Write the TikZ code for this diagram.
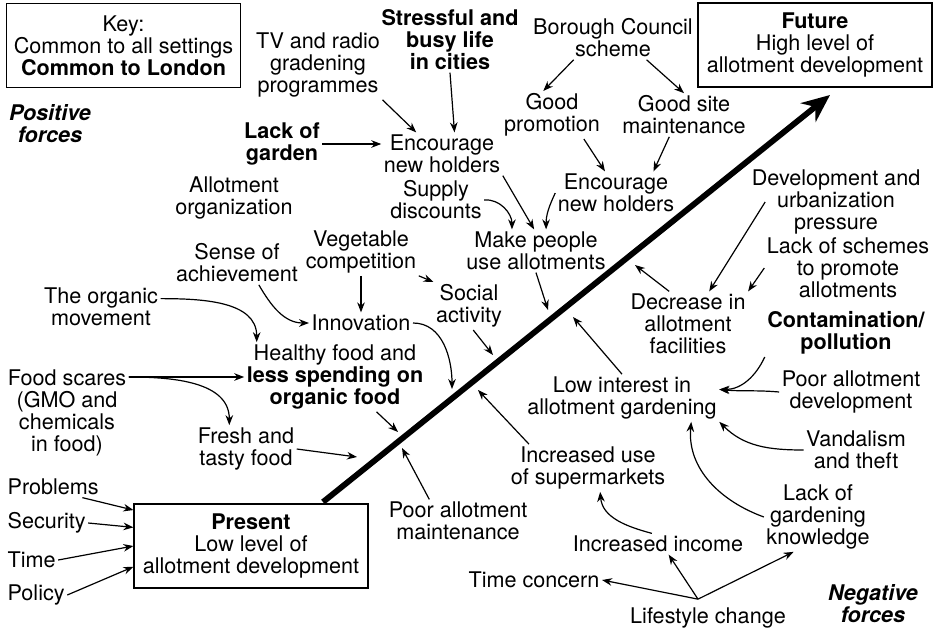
\documentclass[tikz,border=0pt]{standalone}
\usepackage{fontspec}
\setmainfont{TeX Gyre Heros}
\usetikzlibrary{arrows.meta,calc}

\begin{document}
\begin{tikzpicture}[%
    x=0.5pt,
    y=-0.5pt,
    ->,
    >={Stealth[length=5pt,width=3.8pt]},
    line width=0.6pt,
    font=\fontsize{10.8}{11}\selectfont,
    lbl/.style={%
      align=center,
      inner sep=1pt
    },
    bold/.style={%
      lbl,
      font=\fontsize{10.8}{11}\selectfont\bfseries
    },
    forces/.style={%
      lbl,
      font=\fontsize{10.8}{11}\selectfont\bfseries\itshape
    },
    stage/.style={%
      rectangle,
      minimum width=117pt,
      minimum height=42pt,
      align=center,
      draw
    },
    trend/.style={%
      line width=2.9pt,
      -{Stealth[length=14pt,width=12pt]}
    }
  ]
    \useasboundingbox (0,0) rectangle (941,631);

    \node[stage] (key) at (123.5,45.5) {Key:\\Common to all settings\\\textbf{Common to London}};
    \node[forces] (pos) at (50,124) {Positive\\forces};
    \node[lbl] (tv) at (318,65) {TV and radio\\gradening\\programmes};
    \node[bold] (stress) at (450,40) {Stressful and\\busy life\\in cities};
    \node[lbl] (council) at (613,38) {Borough Council\\scheme};
    \node[stage] (future) at (815,45) {\textbf{Future}\\High level of\\allotment development};
    \node[bold] (garden) at (282,144) {Lack of\\garden};
    \node[lbl] (enc1) at (442,154) {Encourage\\new holders};
    \node[lbl] (promo) at (552,115) {Good\\promotion};
    \node[lbl] (site) at (684,115) {Good site\\maintenance};
    \node[lbl] (enc2) at (616,193) {Encourage\\new holders};
    \node[lbl] (supply) at (436,200) {Supply\\discounts};
    \node[lbl] (org) at (234,198) {Allotment\\organization};
    \node[lbl] (make) at (536,251) {Make people\\use allotments};
    \node[lbl] (sense) at (237,263) {Sense of\\achievement};
    \node[lbl] (veg) at (361,252) {Vegetable\\competition};
    \node[lbl] (organic) at (101,307) {The organic\\movement};
    \node[lbl] (innov) at (361,323) {Innovation};
    \node[lbl] (social) at (469,306) {Social\\activity};
    \node[lbl] (healthy) at (335,377) {Healthy food and\\\textbf{less spending on}\\\textbf{organic food}};
    \node[lbl] (scares) at (67,413) {Food scares\\(GMO and\\chemicals\\in food)};
    \node[lbl] (fresh) at (246,449) {Fresh and\\tasty food};
    \node[lbl] (poorm) at (458,521) {Poor allotment\\maintenance};
    \node[stage] (present) at (251,546) {\textbf{Present}\\Low level of\\allotment development};
    \node[lbl,anchor=west] (problems) at (5,487) {Problems};
    \node[lbl,anchor=west] (security) at (5,523) {Security};
    \node[lbl,anchor=west] (time) at (5,560) {Time};
    \node[lbl,anchor=west] (policy) at (5,595) {Policy};

    \node[lbl] (devp) at (836,202) {Development and\\urbanization\\pressure};
    \node[lbl] (schemes) at (848,268) {Lack of schemes\\to promote\\allotments};
    \node[lbl] (decr) at (688,324) {Decrease in\\allotment\\facilities};
    \node[bold] (contam) at (846,333) {Contamination/\\pollution};
    \node[lbl] (low) at (622,398) {Low interest in\\allotment gardening};
    \node[lbl] (poord) at (851,392) {Poor allotment\\development};
    \node[lbl] (vand) at (856,450) {Vandalism\\and theft};
    \node[lbl] (supm) at (588,468) {Increased use\\of supermarkets};
    \node[lbl] (knowl) at (818,517) {Lack of\\gardening\\knowledge};
    \node[lbl] (income) at (658,544) {Increased income};
    \node[lbl] (timec) at (534,580) {Time concern};
    \node[lbl] (life) at (708,618) {Lifestyle change};
    \node[forces] (neg) at (873,604) {Negative\\forces};

    \coordinate (base) at (323,502);
    \coordinate (goal) at (830,95);
    \draw[trend] (base) -- (goal);

    \coordinate (t1) at (548,310);
    \coordinate (t2) at (493,355);
    \coordinate (t3) at (452,389);
    \coordinate (t4) at (398,432);
    \coordinate (t5) at (357,457);
    \coordinate (t6) at (402,448);
    \coordinate (t7) at (478,390);
    \coordinate (t8) at (573,317);
    \coordinate (t9) at (635,265);
    \coordinate (fork) at ([xshift=-5pt,yshift=3pt]life.north);

    \path (tv.south east) edge (enc1.140)
          (stress.south) edge (enc1.60)
          (garden.east) edge (garden.east -| enc1.west)
          (council.-151) edge (promo.110)
          (council.-33) edge (site.north)
          (promo.-37) edge (enc2.117)
          (site.-124) edge (enc2.30)
          (supply.east) edge[out=5,in=90] (make.138)
          (enc1.south east) edge (make.95)
          (enc2.west) edge[out=-115,in=90] (make.65)
          (make.south) edge (t1);

    \path (sense.-45) edge[out=-60,in=180] (innov.west)
          (veg.south) edge (innov.north)
          (veg.south east) edge (social.north west)
          (social.-80) edge (t2)
          (innov.east) edge[out=0,in=90] (t3)
          (organic.8) edge[out=0,in=90] (healthy.156)
          (scares.east |- healthy.west) edge (healthy.west)
          (scares.east |- healthy.west) edge[out=0,in=90] (fresh.125)
          (healthy.-40) edge (t4)
          (fresh.east) edge (t5)
          (poorm.143) edge (t6);

    \path (problems.-20) edge (present.163)
          (security.east) edge (present.171)
          (time.east) edge (present.west)
          (policy.east) edge (present.190);

    \path ([xshift=8pt]devp.west) edge (decr.57)
          (schemes.west) edge (decr.north east)
          (decr.120) edge (t9)
          (contam.south west) edge[out=-115,in=0] (low.5)
          (poord.west) edge[out=175,in=-5] (low.5)
          (vand.west) edge[out=180,in=-45] (low.south east)
          (knowl.west) edge[out=160,in=-95] (low.-19)
          (low.north) edge (t8)
          (supm.158) edge (t7)
          (income.120) edge[out=165,in=-85] (supm.-63);

    \path (fork) edge (timec.east)
          (fork) edge (income.-45)
          (fork) edge (knowl.-125);
\end{tikzpicture}
\end{document}
